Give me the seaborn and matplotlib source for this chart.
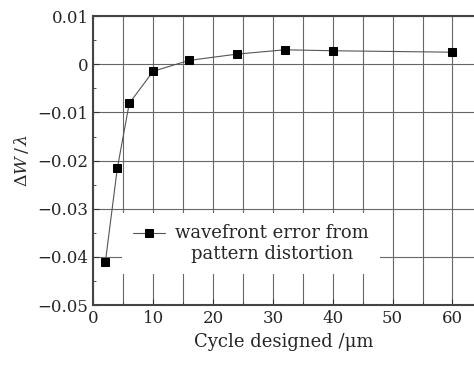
import numpy as np
import pandas as pd
import seaborn as sns
import matplotlib.pyplot as plt
from matplotlib.ticker import MultipleLocator
from matplotlib.legend_handler import HandlerLine2D

# data
cycle = [2, 4, 6, 10, 16, 24, 32, 40, 60]
dw = [-0.0411, -0.0216, -0.0081, -0.00145, 0.0008, 0.0021, 0.0030, 0.0028, 0.0025]
label = 'wavefront error from\npattern distortion'

df = pd.DataFrame({'cycle': cycle, 'dw': dw})


class UpperHandler(HandlerLine2D):
    # put the legend symbol level with the first text line
    def create_artists(self, legend, orig_handle, xdescent, ydescent,
                       width, height, fontsize, trans):
        arts = super().create_artists(legend, orig_handle, xdescent, ydescent,
                                      width, height, fontsize, trans)
        for a in arts:
            a.set_ydata([y + 0.62 * fontsize for y in a.get_ydata()])
        return arts


sns.set_style('ticks')
plt.rcParams['font.family'] = ['DejaVu Serif']
plt.rcParams['mathtext.fontset'] = 'dejavuserif'

fig = plt.figure(figsize=(4.74, 3.65), dpi=100)
ax = fig.add_axes([0.197, 0.164, 0.803, 0.792])

sns.lineplot(data=df, x='cycle', y='dw', ax=ax, color='#555555', lw=0.8,
             marker='s', markersize=6, markerfacecolor='black',
             markeredgecolor='black', label=label)

ax.set_xlim(0, 63.6)
ax.set_ylim(-0.05, 0.01)
ax.xaxis.set_major_locator(MultipleLocator(10))
ax.xaxis.set_minor_locator(MultipleLocator(5))
ax.yaxis.set_major_locator(MultipleLocator(0.01))
ax.yaxis.set_minor_locator(MultipleLocator(0.005))
ax.yaxis.set_major_formatter(lambda v, p: '0' if abs(v) < 1e-9 else f'{v:.2f}'.replace('-', '\u2212'))

ax.grid(axis='x', which='both', color='#666666', lw=0.8)
ax.grid(axis='y', which='major', color='#666666', lw=0.8)
ax.tick_params(which='both', direction='in', labelsize=12, color='#333333')
ax.tick_params(which='major', length=4)
ax.tick_params(which='minor', length=2.5)
for s in ['left', 'bottom', 'top']:
    ax.spines[s].set_color('#444444')
    ax.spines[s].set_linewidth(1.5)
ax.spines['right'].set_visible(False)

ax.set_xlabel('Cycle designed /\u03bcm', fontsize=13, labelpad=4)
ax.set_ylabel(r'$\Delta W\,/\,\lambda$', fontsize=12.5, labelpad=5)

line = ax.get_lines()[0]
leg = ax.legend(loc='upper left', bbox_to_anchor=(0.075, 0.318), borderaxespad=0,
                frameon=True, fontsize=13, handlelength=1.8, handletextpad=0.55,
                borderpad=0.6, labelspacing=0.1,
                handler_map={line: UpperHandler()})
leg.get_frame().set_edgecolor('none')
leg.get_frame().set_facecolor('white')
leg.get_frame().set_alpha(1)
leg.get_frame().set_boxstyle('square', pad=0)
for t in leg.get_texts():
    t.set_multialignment('center')

fig.savefig('out.png', dpi=100)
